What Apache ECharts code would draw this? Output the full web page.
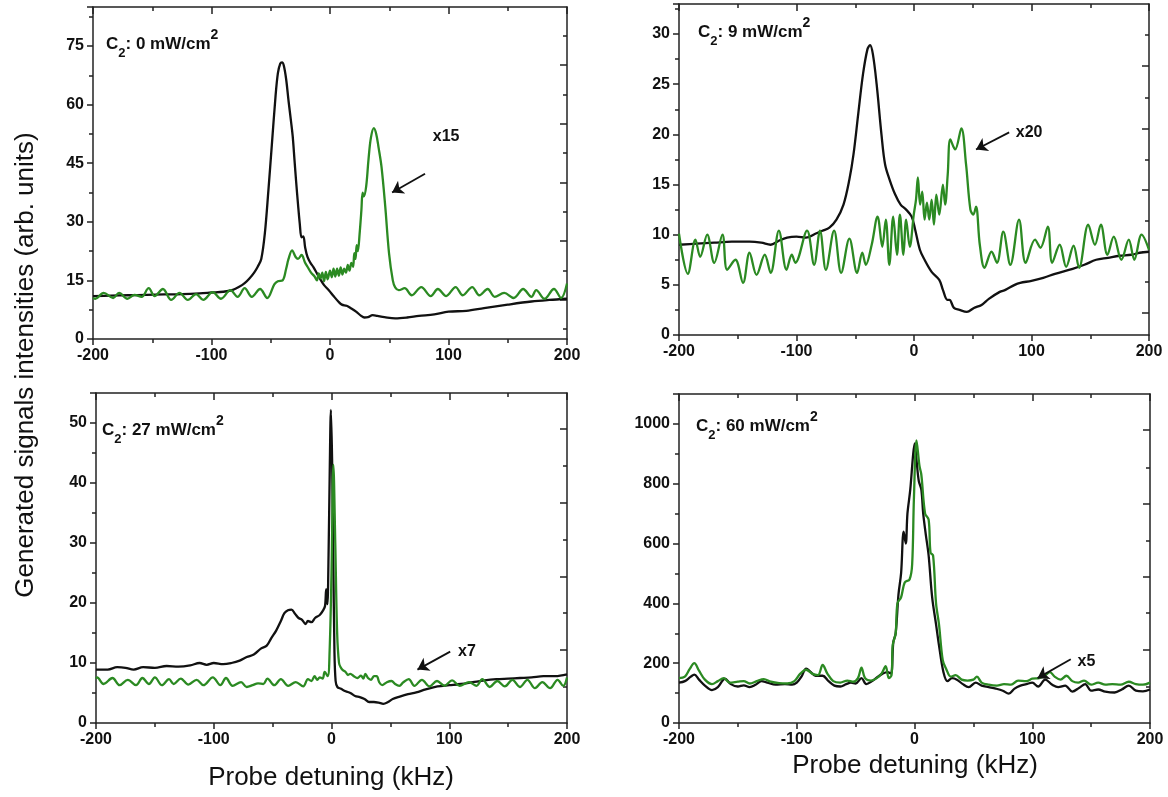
<!DOCTYPE html>
<html><head><meta charset="utf-8">
<script src="https://cdn.jsdelivr.net/npm/echarts@6/dist/echarts.min.js"></script>
<style>html,body{margin:0;padding:0;background:#fff}#c{width:1168px;height:797px}</style>
</head><body><div id="c"></div>
<script>
// ---------- data ----------
const xRange = [-200, 200];
const xStep = 100;
const powers = ['0', '9', '27', '60'];
const scaleLabels = ['x15', 'x20', 'x7', 'x5'];
const yMax = [85, 33, 55, 1100];
const yStep = [15, 5, 10, 200];
const rightMajor = [[10.1,25.1,40.1,55.1,70.1],[2.2,8.3,14.5,20.6,26.8],[12.2,24.4,36.7,49],[244,489,733,980]];
const rightMinor = [[2.6,17.6,32.6,47.6,62.6,77.6],[5.3,11.4,17.5,23.7,29.9],[6.1,18.3,30.6,42.9],[122,367,611,855]];
const labelPos = [[98,51.9],[98,20.2],[115,11.9],[146,205]];
const arrowTail = [[80.2,42.3],[81,20.2],[100.8,11.9],[132.7,213]];
const arrowHead = [[52.4,37.5],[52.8,18.5],[73,8.9],[104.5,150]];

const tlBlack = [[-200,11.0],[-185,11.1],[-170,11.2],[-155,11.3],[-140,11.4],[-125,11.5],[-110,11.7],[-100,11.9],[-90,12.1],[-82,12.6],[-77,13.3],[-72,14.3],[-68,15.5],[-64,17.0],[-61,18.5],[-58,20.5],[-55,27],[-52,38],[-49,50],[-46,62],[-44,68],[-42,70.5],[-40.5,70.8],[-39,70],[-37,66.5],[-35,61],[-33,56],[-31.5,52],[-30,46],[-28.5,40],[-27,34.5],[-25.5,29.5],[-24,26],[-22.5,26.3],[-21,23.5],[-19,21],[-16.5,19.5],[-14,18.4],[-11,16.8],[-8,15.2],[-5,13.8],[-1,12.5],[3,11.0],[7,9.6],[10,8.8],[14,8.5],[18,7.8],[22,7.0],[26,6.0],[29,5.5],[32,5.6],[36,6.1],[40,5.9],[46,5.6],[55,5.3],[65,5.5],[75,5.9],[88,6.3],[100,7.0],[115,7.2],[130,7.9],[150,8.8],[170,9.6],[185,10.0],[200,10.3]];
const tlGreen = [[-200,10.5],[-198,10.3],[-191,11.8],[-183,10.5],[-178,11.8],[-171,10.3],[-165,11.3],[-159,10.8],[-153,13],[-148,11],[-141,12.8],[-134,10],[-127,11.8],[-120,10],[-113,11.5],[-107,10],[-99,12],[-92,10.3],[-84,12.5],[-78,10.8],[-72,13],[-66,10.8],[-59,12.8],[-53,10.5],[-47,14],[-44,14.8],[-40,15],[-37,18],[-35,20.5],[-32,22.7],[-29,21],[-27,20.5],[-24,21.5],[-21,19.5],[-19,18.5],[-16,17],[-13,16],[-11,15],[-9.5,16.8],[-8,15.5],[-6.5,17],[-5,14.8],[-3.5,17.2],[-2,15.3],[0,17.5],[1.5,15.8],[3,18],[4.5,16],[6,18],[7.5,16.2],[9,18.3],[10.5,16.5],[12,18],[13.5,17],[15,19],[16.5,17.5],[18,19.5],[19.5,18.5],[20.5,22],[21.5,20.5],[22.5,24],[23.5,22.5],[25,27],[26.5,33],[27.5,37.5],[28.5,36.5],[30.5,39],[32.5,46],[34.5,51.5],[37,54],[39,52.5],[41,49],[43.5,44],[46.6,34],[49.8,22],[53,15],[55,13.2],[58,12.5],[63,13],[69,11.2],[77,13.3],[85,11],[91,12.8],[98,11],[106,13.3],[112,11.2],[120,13.3],[126,11.2],[133,12.8],[139,10.8],[147,11.8],[155,10.5],[163,12.8],[170,10.8],[174,12.5],[181,10.3],[189,12.8],[195,10.5],[200,14.2]];

const trBlack = [[-200,9.0],[-185,9.1],[-170,9.2],[-155,9.3],[-140,9.3],[-130,9.2],[-122,9.0],[-115,9.4],[-108,9.7],[-100,9.8],[-92,9.7],[-84,10.1],[-78,10.4],[-72,10.7],[-66,11.5],[-60,13],[-55,15.5],[-51.5,18],[-47.5,22],[-43.4,26],[-39.6,28.5],[-37.4,28.9],[-35,28],[-31.8,25],[-27.7,20],[-24.6,17],[-20.8,15.5],[-16,14],[-11.4,13],[-6.7,12.5],[-2,11.8],[1,10.5],[5,8.5],[9,7.5],[15,6.3],[21.5,5.5],[24.6,4.5],[28.4,3.5],[30.2,3.5],[34,2.7],[38.7,2.5],[45,2.3],[51,2.7],[57.5,3],[63.7,3.6],[73,4.3],[77.8,4.5],[85.7,5],[90.4,5.2],[100,5.4],[110,5.7],[120,6.1],[135,6.6],[145,7.0],[155,7.5],[165,7.7],[175,7.9],[185,8.0],[192,8.2],[200,8.3]];
const trGreen = [[-200,10.1],[-192.5,6.1],[-186,9.5],[-182,7.8],[-176,10],[-170,7.2],[-163,10],[-159,6.5],[-152,7.5],[-145.5,5.2],[-140,8.2],[-134,6],[-127,8],[-122,6.2],[-115,10.4],[-108.5,6.5],[-104,8],[-101,7.2],[-91,10.4],[-85,7],[-80,10.4],[-75,6.5],[-68,10.4],[-62,6.2],[-55,9.6],[-48.4,6.2],[-44,8.2],[-41,7],[-36,9],[-31,11.8],[-27,8.8],[-24,11.5],[-21,7],[-17.7,11.8],[-14.5,8],[-12,12],[-9,8],[-6.7,11.5],[-3.6,8.8],[-0.2,12],[1.7,13.5],[3.3,15.7],[5.2,13],[7,14.3],[9,11.5],[11,13.2],[13,11.5],[15,13.5],[17,11],[19,14],[21.5,12],[24.6,15],[26.5,13],[28.7,16],[30.9,19.5],[35,18.5],[40.3,20.6],[44.3,17],[48,12.5],[50.5,12],[52.8,12.8],[56,9],[60,6.7],[66,8.3],[70.6,7.2],[76,10.3],[82,7],[89.4,11.5],[95,7.2],[103,9.5],[107.6,8.7],[113.9,10.8],[117.6,7.2],[124,9],[129.5,6.8],[135.8,8.9],[140.5,6.7],[148.3,11],[154,9],[159,11],[164.6,8],[170,9.8],[176.5,7.5],[182.8,9.5],[187.5,7.5],[193.7,10],[200,8.5]];

const blBlack = [[-200,8.9],[-190,8.9],[-182,9.3],[-175,9.2],[-168,8.9],[-160,9.3],[-150,9.2],[-140,9.5],[-130,9.4],[-120,9.6],[-112,10],[-106,9.7],[-100,10],[-92,9.8],[-85,10],[-78,10.4],[-72,11],[-66,11.4],[-60,12.4],[-55,12.9],[-51,14.2],[-47,15.4],[-43,17],[-40,18.3],[-37,18.8],[-34,18.9],[-31,18.2],[-28,17.5],[-25,17.2],[-22,16.5],[-20,17],[-17,16.8],[-14,17.5],[-10,18],[-7,18.8],[-5.5,19.5],[-4.5,22.3],[-3.5,19.8],[-2.5,28],[-1.5,42],[-0.5,52.2],[0.5,44],[1.5,28],[2.5,12],[3.5,7],[5,6],[8,5.7],[12,5.3],[16,5.0],[20,4.5],[24,4.3],[28,4.0],[32,3.5],[36,3.5],[40,3.4],[44,3.2],[48,3.5],[52,4.0],[58,4.4],[65,4.8],[72,5.1],[80,5.6],[90,6.1],[100,6.3],[110,6.5],[120,6.8],[130,7.1],[140,7.3],[150,7.4],[160,7.5],[170,7.6],[180,7.8],[190,7.8],[200,8.1]];
const blGreen = [[-200,7.4],[-199,7.6],[-193.6,6.5],[-186,7.5],[-180,6.3],[-173,7.2],[-166,6.3],[-160.6,7.5],[-155,6.5],[-150,7.6],[-144,6.3],[-138,7.3],[-134,6.5],[-128,7.4],[-121.6,6.4],[-114.6,7.2],[-108.8,6.3],[-100.8,7.6],[-94.4,6.3],[-89.6,7.5],[-84,6.2],[-76.8,6.8],[-72,6.0],[-67,6.3],[-62.4,6.6],[-58,6.5],[-54.4,7.4],[-48.6,6.3],[-43,7.3],[-36.8,6.2],[-30.4,6.8],[-24,6.1],[-20,7.3],[-17,7.0],[-14.4,7.8],[-12,7.2],[-10,7.6],[-7.5,7.4],[-5.8,8.5],[-3.2,7.8],[-1.6,12],[0,25],[1.6,43],[3.2,30],[4.8,15],[6.4,10],[8,9.2],[9.6,8.8],[12,8.5],[14,8.0],[16,8.2],[19,7.8],[22,7.5],[25,7.9],[27,7.4],[28.8,8.2],[31,7.5],[33.6,7.2],[36,7.8],[38.4,7.8],[40.5,6.8],[43,6.3],[47,6.8],[51,7],[54,6.5],[57.6,6.2],[61,6.8],[65.6,7.3],[70.4,6.2],[76.8,7.2],[83.2,6.1],[89.6,7],[96,6.2],[102.4,7.1],[108.8,6.2],[116.8,6.8],[123.2,6.2],[128,7.3],[134.4,6],[140.8,7],[147.2,6.1],[153.6,7.2],[160,6.0],[166.4,7.2],[172.8,5.8],[179,6.8],[185.6,5.8],[192,7.2],[196.8,6.2],[200,7.6]];

const brBlack = [[-200,135],[-195,140],[-190,155],[-187,162],[-183,145],[-178,125],[-172,110],[-167,120],[-161,148],[-156,130],[-150,122],[-145,126],[-140,120],[-135,128],[-130,140],[-125,135],[-118,128],[-110,130],[-104,128],[-100,135],[-96,155],[-92,182],[-88,170],[-84,158],[-78,158],[-73,140],[-68,125],[-63,122],[-58,130],[-54,135],[-50,132],[-45,150],[-41,130],[-36,140],[-31,155],[-27,165],[-23,170],[-20,165],[-18,270],[-16,300],[-13.6,430],[-11.4,500],[-9.2,640],[-7.4,600],[-6,700],[-3.6,780],[-1.1,900],[0.2,935],[1.7,880],[3.6,810],[5.8,780],[7.4,700],[9.6,630],[12,560],[15,420],[18.3,330],[20.8,260],[24.6,170],[28,140],[32,150],[36,145],[41,130],[46,120],[52,135],[57,125],[63,120],[69,115],[75,108],[80,98],[85,115],[90,125],[95,130],[100,135],[105,122],[111,145],[117,128],[122,120],[128,125],[134,105],[140,118],[145,130],[150,108],[156,112],[162,105],[170,102],[176,112],[182,125],[188,108],[194,106],[200,112]];
const brGreen = [[-200,150],[-195,155],[-191,180],[-187,200],[-183,175],[-178,145],[-172,130],[-167,140],[-162,150],[-157,135],[-150,138],[-145,140],[-140,132],[-134,140],[-128,147],[-122,138],[-115,133],[-108,132],[-102,140],[-97,165],[-92,178],[-87,165],[-82,160],[-78,194],[-74,165],[-69,140],[-63,135],[-57,142],[-52,138],[-48,150],[-45,185],[-42,150],[-37,142],[-32,150],[-28,165],[-24.5,190],[-21.8,150],[-19.5,160],[-18.5,260],[-16,300],[-14.5,400],[-11.4,420],[-8.3,470],[-4.2,480],[-2,530],[-0.5,750],[1.7,945],[4.2,860],[5.8,830],[9,700],[12,680],[13.6,570],[15.8,560],[18.3,400],[20.8,330],[24,210],[27,180],[30.8,155],[35,160],[40,145],[45,142],[50,145],[53,155],[57,135],[63,128],[70,125],[76,130],[82,128],[88,142],[95,140],[100,148],[106,150],[111,160],[115,170],[119,155],[124,145],[129,158],[134,140],[139,135],[144,142],[150,128],[156,135],[162,128],[168,130],[175,128],[182,138],[188,130],[194,128],[200,135]];

const blacks = [tlBlack, trBlack, blBlack, brBlack];
const greens = [tlGreen, trGreen, blGreen, brGreen];

// ---------- layout / style ----------
const FONT = '"Liberation Sans", Arial, sans-serif';
const INK = '#111';
const GREEN = '#2b8a22';
const grids = [
  {left: 93, top: 7, width: 474, height: 332},
  {left: 679, top: 4, width: 470, height: 331},
  {left: 96, top: 393, width: 471, height: 330},
  {left: 679, top: 394, width: 471, height: 329}
];
const c2Pos = [[106, 28], [698, 16], [102, 414], [696, 410]];
const frameLine = {show: true, onZero: false, lineStyle: {color: '#222', width: 1.5}};
const tickLabel = {fontFamily: FONT, fontWeight: 'bold', fontSize: 16, color: INK};

const xAxes = [], yAxes = [], series = [], graphics = [];
grids.forEach((g, i) => {
  xAxes.push({
    type: 'value', gridIndex: i, position: 'bottom', min: xRange[0], max: xRange[1], interval: xStep,
    axisLine: frameLine, splitLine: {show: false},
    axisTick: {show: true, length: 6, lineStyle: {color: '#222', width: 1.5}},
    minorTick: {show: true, splitNumber: 2, length: 4, lineStyle: {color: '#222', width: 1.5}},
    axisLabel: Object.assign({margin: 9}, tickLabel)
  });
  xAxes.push({
    type: 'value', gridIndex: i, position: 'top', min: xRange[0], max: xRange[1], interval: xStep,
    axisLine: frameLine, splitLine: {show: false},
    axisTick: {show: true, inside: true, length: 7, lineStyle: {color: '#222', width: 1.5}},
    minorTick: {show: true, splitNumber: 2, length: 4, lineStyle: {color: '#222', width: 1.5}},
    axisLabel: {show: false}
  });
  const st = yStep[i], mx = yMax[i];
  yAxes.push({
    type: 'value', gridIndex: i, position: 'left', min: 0, max: mx, interval: st,
    axisLine: frameLine, splitLine: {show: false},
    axisTick: {show: true, length: 6, lineStyle: {color: '#222', width: 1.5}},
    minorTick: {show: true, splitNumber: 2, length: 4, lineStyle: {color: '#222', width: 1.5}},
    axisLabel: Object.assign({margin: 9, formatter: v => (Math.abs(v % st) < 1e-9 && v <= mx - st / 2) ? String(v) : ''}, tickLabel)
  });
  yAxes.push({
    type: 'value', gridIndex: i, position: 'right', min: 0, max: mx,
    axisLine: frameLine, splitLine: {show: false},
    axisTick: {show: true, inside: true, length: 7, customValues: rightMajor[i], lineStyle: {color: '#222', width: 1.5}},
    axisLabel: {show: false}
  });
  yAxes.push({
    type: 'value', gridIndex: i, position: 'right', min: 0, max: mx,
    axisLine: {show: false, onZero: false}, splitLine: {show: false},
    axisTick: {show: true, inside: true, length: 4, customValues: rightMinor[i], lineStyle: {color: '#222', width: 1.5}},
    axisLabel: {show: false}
  });
  series.push({
    type: 'line', xAxisIndex: 2 * i, yAxisIndex: 3 * i, data: blacks[i],
    symbol: 'none', smooth: 0.35, lineStyle: {color: INK, width: 2.3}, z: 2, silent: true
  });
  series.push({
    type: 'line', xAxisIndex: 2 * i, yAxisIndex: 3 * i, data: greens[i],
    symbol: 'none', smooth: 0.35, lineStyle: {color: GREEN, width: 2.3}, z: 3, silent: true,
    markPoint: {
      silent: true, symbol: 'rect', symbolSize: 1, itemStyle: {color: 'rgba(0,0,0,0)'},
      data: [{coord: labelPos[i], label: {show: true, position: 'inside', formatter: scaleLabels[i],
        fontFamily: FONT, fontWeight: 'bold', fontSize: 16, color: INK}}]
    },
    markLine: {
      silent: true, symbol: ['none', 'arrow'], symbolSize: 11,
      lineStyle: {color: INK, width: 1.8, type: 'solid'}, label: {show: false},
      data: [[{coord: arrowTail[i], symbol: 'none'}, {coord: arrowHead[i], symbol: 'arrow', symbolSize: 11}]]
    }
  });
  graphics.push({
    type: 'text', x: c2Pos[i][0], y: c2Pos[i][1], silent: true,
    style: {
      text: '{m|C}{b|2}{m|: ' + powers[i] + ' mW/cm}{p|2}',
      align: 'left', verticalAlign: 'top', textAlign: 'left', textVerticalAlign: 'top',
      rich: {
        m: {fontFamily: FONT, fontWeight: 'bold', fontSize: 17, lineHeight: 32, fill: INK, color: INK},
        b: {fontFamily: FONT, fontWeight: 'bold', fontSize: 13, lineHeight: 19, verticalAlign: 'bottom', fill: INK, color: INK},
        p: {fontFamily: FONT, fontWeight: 'bold', fontSize: 14, lineHeight: 11, verticalAlign: 'top', fill: INK, color: INK}
      }
    }
  });
});

graphics.push({
  type: 'text', x: 26, y: 365, rotation: Math.PI / 2, silent: true,
  style: {text: 'Generated signals intensities (arb. units)', font: '26px ' + FONT, fill: INK,
    align: 'center', verticalAlign: 'middle', textAlign: 'center', textVerticalAlign: 'middle'}
});
graphics.push({
  type: 'text', x: 331, y: 778, silent: true,
  style: {text: 'Probe detuning (kHz)', font: '26px ' + FONT, fill: INK,
    align: 'center', verticalAlign: 'middle', textAlign: 'center', textVerticalAlign: 'middle'}
});
graphics.push({
  type: 'text', x: 915, y: 766, silent: true,
  style: {text: 'Probe detuning (kHz)', font: '26px ' + FONT, fill: INK,
    align: 'center', verticalAlign: 'middle', textAlign: 'center', textVerticalAlign: 'middle'}
});

const chart = echarts.init(document.getElementById('c'), null, {renderer: 'canvas'});
chart.setOption({
  animation: false,
  backgroundColor: '#fff',
  grid: grids,
  xAxis: xAxes,
  yAxis: yAxes,
  series: series,
  graphic: graphics
});
</script>
</body></html>
